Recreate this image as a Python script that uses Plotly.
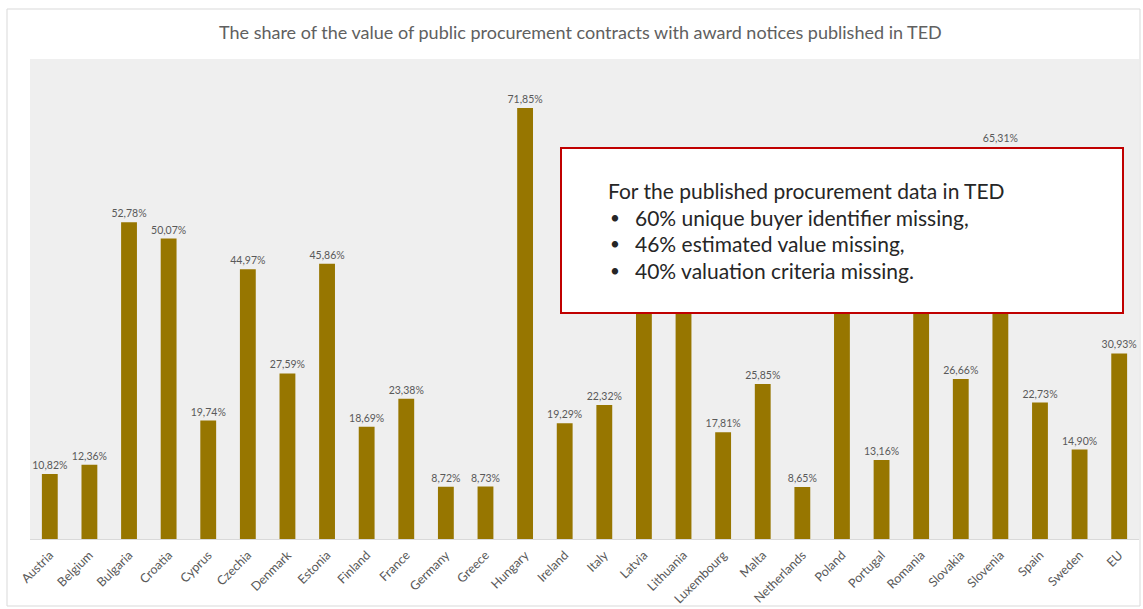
import plotly.graph_objects as go

# Share of the value of public procurement contracts with award notices published in TED (%)
countries = [
    "Austria", "Belgium", "Bulgaria", "Croatia", "Cyprus", "Czechia", "Denmark",
    "Estonia", "Finland", "France", "Germany", "Greece", "Hungary", "Ireland",
    "Italy", "Latvia", "Lithuania", "Luxembourg", "Malta", "Netherlands", "Poland",
    "Portugal", "Romania", "Slovakia", "Slovenia", "Spain", "Sweden", "EU",
]
share_pct = [
    10.82, 12.36, 52.78, 50.07, 19.74, 44.97, 27.59,
    45.86, 18.69, 23.38, 8.72, 8.73, 71.85, 19.29,
    22.32, 49.50, 56.20, 17.81, 25.85, 8.65, 53.00,
    13.16, 58.40, 26.66, 65.31, 22.73, 14.90, 30.93,
]
# bars whose value labels sit behind the note box
covered = ["Latvia", "Lithuania", "Poland", "Romania"]

title_text = "The share of the value of public procurement contracts with award notices published in TED"
note_heading = "For the published procurement data in TED"
note_bullets = [
    "60% unique buyer identifier missing,",
    "46% estimated value missing,",
    "40% valuation criteria missing.",
]

W, H = 1143, 609
L, R, T, B = 30, 4, 59, 70
pw, ph = W - L - R, H - T - B


def px(x):
    return (x - L) / pw


def py(y):
    return (H - B - y) / ph


labels = [
    "" if c in covered else f"{v:.2f}%".replace(".", ",")
    for c, v in zip(countries, share_pct)
]

font_family = "Lato, 'Open Sans', sans-serif"
note_font = dict(size=21, color="#262626", family=font_family)

fig = go.Figure(
    go.Bar(
        x=countries,
        y=share_pct,
        marker=dict(color="#977600", line=dict(width=0)),
        text=labels,
        textposition="outside",
        constraintext="none",
        textfont=dict(size=10.5, color="#595959", family=font_family),
        cliponaxis=False,
        hoverinfo="x+y",
    )
)

shapes = [
    # outer chart frame
    dict(type="rect", xref="paper", yref="paper",
         x0=px(7), x1=px(1140), y0=py(606), y1=py(9),
         line=dict(color="#D9D9D9", width=1), fillcolor="rgba(0,0,0,0)", layer="below"),
    # note box
    dict(type="rect", xref="paper", yref="paper",
         x0=px(561), x1=px(1123), y0=py(313), y1=py(148),
         line=dict(color="#C00000", width=2), fillcolor="white", layer="above"),
]

annotations = [
    dict(text=title_text, xref="paper", yref="paper", x=px(580), y=py(32),
         xanchor="center", yanchor="middle", showarrow=False,
         font=dict(size=18, color="#606060", family=font_family)),
    dict(text=note_heading, xref="paper", yref="paper", x=px(606), y=py(190),
         xanchor="left", yanchor="middle", showarrow=False, font=note_font),
]
for i, line in enumerate(note_bullets):
    yc = 217 + i * 26.7
    annotations.append(dict(text="•", xref="paper", yref="paper", x=px(608), y=py(yc),
                            xanchor="left", yanchor="middle", showarrow=False,
                            font=dict(size=17, color="#262626", family=font_family)))
    annotations.append(dict(text=line, xref="paper", yref="paper", x=px(633), y=py(yc),
                            xanchor="left", yanchor="middle", showarrow=False,
                            font=note_font))

fig.update_layout(
    width=W, height=H,
    margin=dict(l=L, r=R, t=T, b=B, autoexpand=False),
    paper_bgcolor="white",
    plot_bgcolor="#EFEFEF",
    bargap=0.6,
    showlegend=False,
    shapes=shapes,
    annotations=annotations,
    xaxis=dict(
        tickangle=-45,
        automargin=False,
        tickfont=dict(size=12.5, color="#595959", family=font_family),
        showline=True, linecolor="#D9D9D9", linewidth=1,
        showgrid=False, ticks="outside", ticklen=3, tickcolor="rgba(0,0,0,0)",
        fixedrange=True,
    ),
    yaxis=dict(
        range=[0, 80], visible=False, showgrid=False, fixedrange=True,
    ),
)

fig.write_html("out.html")
